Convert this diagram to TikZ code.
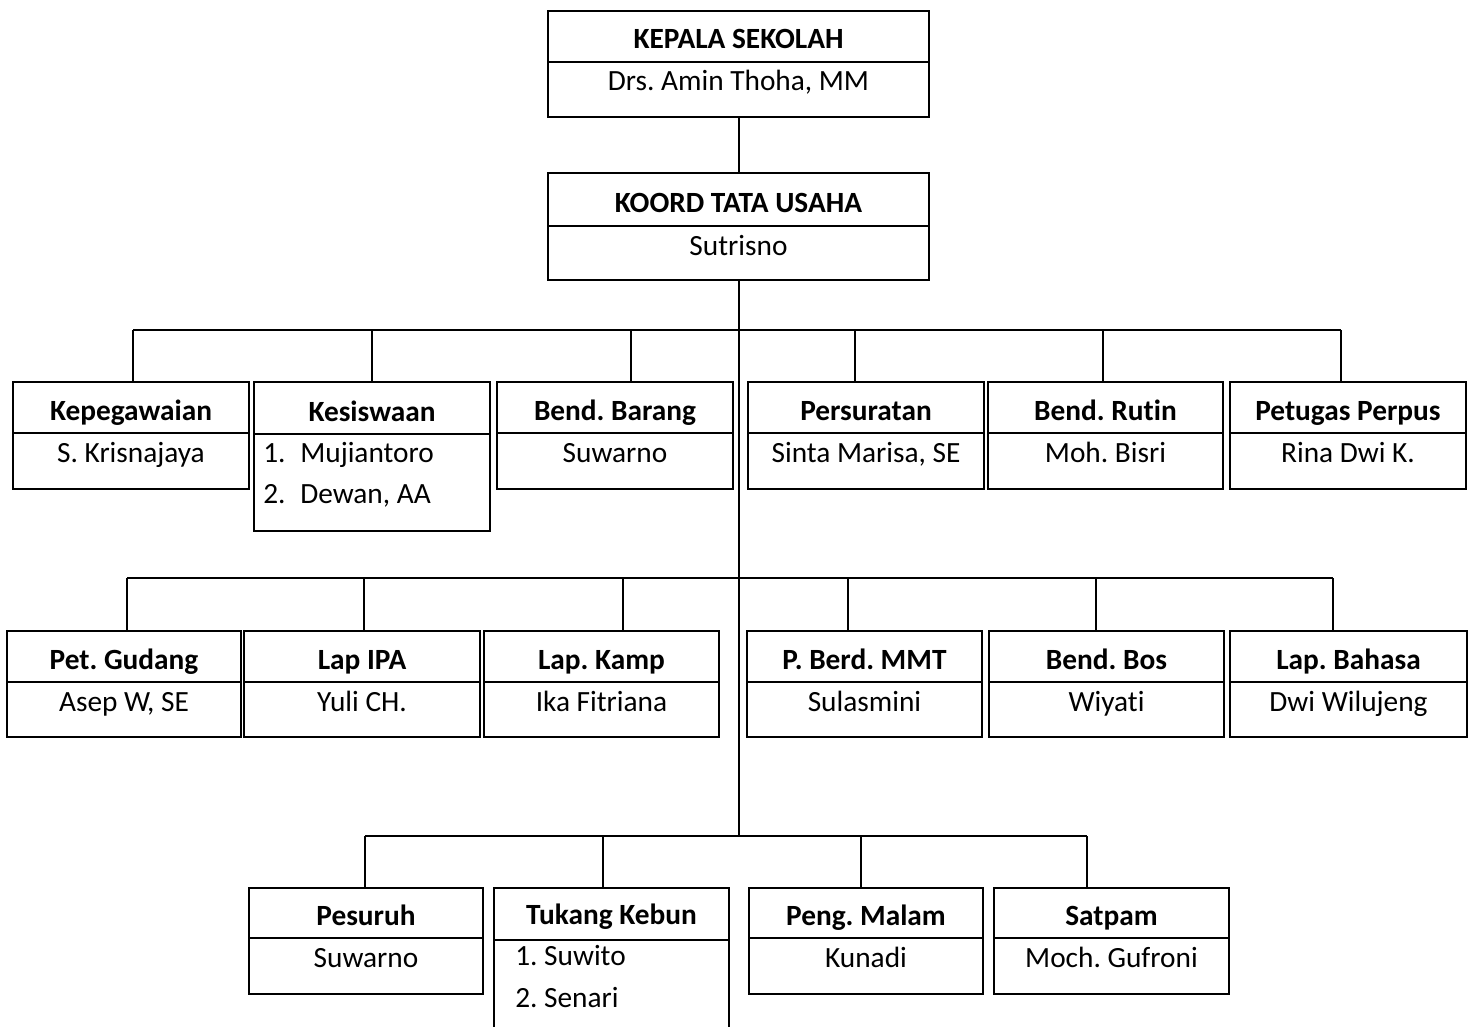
\documentclass[tikz,border=0pt]{standalone}
\usepackage{fontspec}
\setmainfont{Carlito}[Ligatures=NoCommon]
\frenchspacing
\newcommand\orgbox[8]{%
  \node[obx, minimum width={(#4-#2)*0.75pt}, minimum height={(#5-#3)*0.75pt}] (#1) at ({(#2+#4)/2},{(#3+#5)/2}) {};
  \draw[conn] (#1.west |- 0,#6) -- (#1.east |- 0,#6);
  \node[ttl] (#1-t) at ({(#2+#4)/2},#6-13) {#7};
  \node[txt] (#1-n) at ({(#2+#4)/2},#6+29) {#8};
}
\begin{document}
\begin{tikzpicture}[x=0.75pt,y=-0.75pt,
  conn/.style={line width=1.5pt},
  obx/.style={draw, line width=1.5pt, inner sep=0pt, rectangle},
  txt/.style={anchor=base, inner sep=0pt, font=\fontsize{22}{26}\selectfont},
  ttl/.style={anchor=base, inner sep=0pt, font=\fontsize{22}{26}\selectfont\bfseries}]
\useasboundingbox (0,0) rectangle (1474,1027);

% top
\orgbox{kepala}{548}{11}{929}{117}{62}{KEPALA SEKOLAH}{Drs. Amin Thoha, MM}
\orgbox{koord}{548}{173}{929}{280}{226}{KOORD TATA USAHA}{Sutrisno}

% row 1
\orgbox{kepeg}{13}{382}{249}{489}{433}{Kepegawaian}{S. Krisnajaya}
\orgbox{kesis}{254}{382}{490}{531}{434}{Kesiswaan}{}
\node[txt, anchor=base west] (kesis-1a) at (263,462) {1.};
\node[txt, anchor=base west] (kesis-1b) at (300,462) {Mujiantoro};
\node[txt, anchor=base west] (kesis-2a) at (263,503) {2.};
\node[txt, anchor=base west] (kesis-2b) at (300,503) {Dewan, AA};
\orgbox{barang}{497}{382}{733}{489}{433}{Bend. Barang}{Suwarno}
\orgbox{persur}{748}{382}{984}{489}{433}{Persuratan}{Sinta Marisa, SE}
\orgbox{rutin}{988}{382}{1223}{489}{433}{Bend. Rutin}{Moh. Bisri}
\orgbox{perpus}{1230}{382}{1466}{489}{433}{Petugas Perpus}{Rina Dwi K.}

% row 2
\orgbox{gudang}{7}{631}{241}{737}{682}{Pet. Gudang}{Asep W, SE}
\orgbox{ipa}{244}{631}{480}{737}{682}{Lap IPA}{Yuli CH.}
\orgbox{kamp}{484}{631}{719}{737}{682}{Lap. Kamp}{Ika Fitriana}
\orgbox{mmt}{747}{631}{982}{737}{682}{P. Berd. MMT}{Sulasmini}
\orgbox{bos}{989}{631}{1224}{737}{682}{Bend. Bos}{Wiyati}
\orgbox{bahasa}{1230}{631}{1467}{737}{682}{Lap. Bahasa}{Dwi Wilujeng}

% row 3
\orgbox{pesuruh}{249}{888}{483}{994}{938}{Pesuruh}{Suwarno}
\orgbox{malam}{749}{888}{983}{994}{938}{Peng. Malam}{Kunadi}
\orgbox{satpam}{994}{888}{1229}{994}{938}{Satpam}{Moch. Gufroni}
% Tukang Kebun (bottom cut off)
\node[inner sep=0pt, minimum width={235*0.75pt}, minimum height={139*0.75pt}] (tukang) at (611.5,957.5) {};
\draw[conn] (tukang.south west) -- (tukang.north west) -- (tukang.north east) -- (tukang.south east);
\draw[conn] (tukang.west |- 0,940) -- (tukang.east |- 0,940);
\node[ttl] (tukang-t) at (611.5,924) {Tukang Kebun};
\node[txt, anchor=base west] (tukang-1) at (515,965) {1. Suwito};
\node[txt, anchor=base west] (tukang-2) at (515,1007) {2. Senari};

% connectors
\draw[conn] (kepala) -- (koord);
\coordinate (t3) at (koord.south |- 0,836);
\draw[conn] (koord.south) -- (t3);

\coordinate (b1a) at (133,330);
\coordinate (b1b) at (1341,330);
\draw[conn] (b1a) -- (b1b);
\foreach \x/\n in {133/kepeg,372/kesis,631/barang,855/persur,1103/rutin,1341/perpus}{
  \coordinate (d-\n) at (\x,330);
  \draw[conn] (d-\n) -- (d-\n |- \n.north);
}

\coordinate (b2a) at (127,578);
\coordinate (b2b) at (1333,578);
\draw[conn] (b2a) -- (b2b);
\foreach \x/\n in {127/gudang,364/ipa,623/kamp,848/mmt,1096/bos,1333/bahasa}{
  \coordinate (d-\n) at (\x,578);
  \draw[conn] (d-\n) -- (d-\n |- \n.north);
}

\coordinate (b3a) at (365,836);
\coordinate (b3b) at (1087,836);
\draw[conn] (b3a) -- (b3b);
\foreach \x/\n in {365/pesuruh,603/tukang,861/malam,1087/satpam}{
  \coordinate (d-\n) at (\x,836);
  \draw[conn] (d-\n) -- (d-\n |- \n.north);
}
\end{tikzpicture}
\end{document}
